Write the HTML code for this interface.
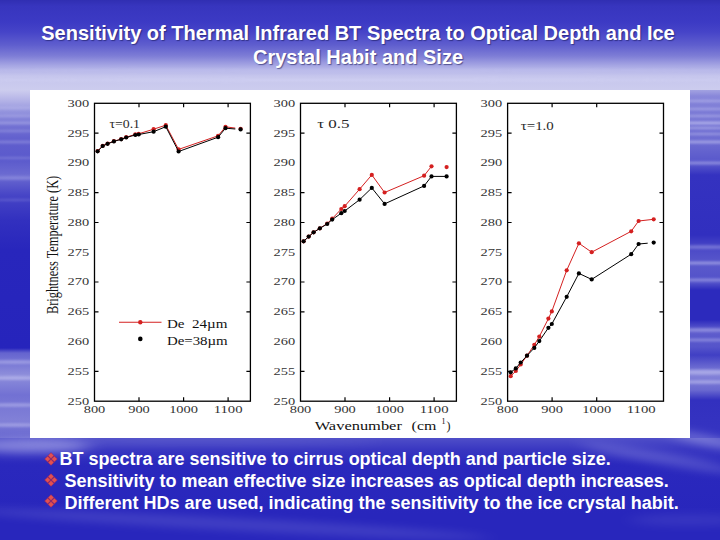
<!DOCTYPE html>
<html><head><meta charset="utf-8">
<style>
html,body{margin:0;padding:0;width:720px;height:540px;overflow:hidden;}
body{position:relative;background:#3236b0;font-family:"Liberation Sans",sans-serif;}
#bg{position:absolute;left:0;top:0;width:720px;height:540px;}
.title{position:absolute;left:0;width:716px;text-align:center;color:#fff;font-weight:bold;font-size:20px;line-height:24px;white-space:nowrap;text-shadow:1px 1px 1px rgba(20,20,80,0.55);}
#chart{position:absolute;left:30px;top:90px;width:660px;height:348px;background:#fff;}
#chart svg{position:absolute;left:0;top:0;}
.tl{font-family:"Liberation Serif",serif;font-size:11.3px;fill:#333;}
.ta{font-family:"Liberation Serif",serif;font-size:12px;fill:#2a2a2a;}
.lg{font-family:"Liberation Serif",serif;font-size:11.5px;fill:#111;}
.ax{font-family:"Liberation Serif",serif;font-size:12px;fill:#111;}
.sup{font-family:"Liberation Serif",serif;font-size:8px;fill:#111;}
.bl{position:absolute;left:0;color:#fff;font-weight:bold;font-size:18px;line-height:21px;white-space:nowrap;}
.bul{position:absolute;width:14px;height:14px;}
</style></head><body>
<svg id="bg" width="720" height="540" viewBox="0 0 720 540"><defs><linearGradient id="gt" gradientUnits="userSpaceOnUse" x1="0" y1="0" x2="0" y2="90"><stop offset="0.0000" stop-color="rgb(48,46,178)"/><stop offset="0.0667" stop-color="rgb(55,53,190)"/><stop offset="0.2444" stop-color="rgb(60,58,196)"/><stop offset="0.3556" stop-color="rgb(70,68,200)"/><stop offset="0.5000" stop-color="rgb(95,94,206)"/><stop offset="0.6222" stop-color="rgb(126,125,214)"/><stop offset="0.7333" stop-color="rgb(168,168,228)"/><stop offset="0.8444" stop-color="rgb(198,198,237)"/><stop offset="1.0000" stop-color="rgb(204,204,238)"/></linearGradient><linearGradient id="gl" gradientUnits="userSpaceOnUse" x1="0" y1="90" x2="0" y2="438"><stop offset="0.0000" stop-color="rgb(205,205,238)"/><stop offset="0.0287" stop-color="rgb(181,180,231)"/><stop offset="0.0632" stop-color="rgb(147,147,221)"/><stop offset="0.1006" stop-color="rgb(116,115,211)"/><stop offset="0.1437" stop-color="rgb(96,94,205)"/><stop offset="0.2011" stop-color="rgb(91,90,204)"/><stop offset="0.2443" stop-color="rgb(108,107,209)"/><stop offset="0.3017" stop-color="rgb(71,69,198)"/><stop offset="0.3736" stop-color="rgb(50,48,191)"/><stop offset="0.4598" stop-color="rgb(40,38,188)"/><stop offset="0.7414" stop-color="rgb(38,36,188)"/><stop offset="0.7557" stop-color="rgb(101,100,207)"/><stop offset="0.8190" stop-color="rgb(142,142,219)"/><stop offset="0.8764" stop-color="rgb(114,113,211)"/><stop offset="0.9483" stop-color="rgb(129,128,215)"/><stop offset="1.0000" stop-color="rgb(101,100,207)"/></linearGradient><linearGradient id="gr" gradientUnits="userSpaceOnUse" x1="0" y1="90" x2="0" y2="438"><stop offset="0.0000" stop-color="rgb(163,163,225)"/><stop offset="0.0172" stop-color="rgb(137,136,218)"/><stop offset="0.0575" stop-color="rgb(125,124,214)"/><stop offset="0.1006" stop-color="rgb(118,117,212)"/><stop offset="0.1580" stop-color="rgb(106,105,208)"/><stop offset="0.2155" stop-color="rgb(85,84,202)"/><stop offset="0.2443" stop-color="rgb(52,50,192)"/><stop offset="0.4167" stop-color="rgb(49,47,191)"/><stop offset="0.4540" stop-color="rgb(75,73,199)"/><stop offset="0.5029" stop-color="rgb(90,89,203)"/><stop offset="0.5546" stop-color="rgb(81,80,201)"/><stop offset="0.5747" stop-color="rgb(44,42,189)"/><stop offset="0.6609" stop-color="rgb(44,42,189)"/><stop offset="0.6897" stop-color="rgb(96,94,205)"/><stop offset="0.7385" stop-color="rgb(85,84,202)"/><stop offset="0.7615" stop-color="rgb(64,63,196)"/><stop offset="0.8190" stop-color="rgb(132,131,216)"/><stop offset="0.8621" stop-color="rgb(106,105,208)"/><stop offset="0.8908" stop-color="rgb(50,48,191)"/><stop offset="1.0000" stop-color="rgb(54,52,193)"/></linearGradient><linearGradient id="gb" gradientUnits="userSpaceOnUse" x1="0" y1="438" x2="0" y2="540"><stop offset="0.0000" stop-color="rgb(79,78,200)"/><stop offset="0.1176" stop-color="rgb(56,54,193)"/><stop offset="0.2647" stop-color="rgb(42,40,189)"/><stop offset="0.7549" stop-color="rgb(40,38,188)"/><stop offset="1.0000" stop-color="rgb(40,38,188)"/></linearGradient>
<filter id="bl1" x="-20%" y="-200%" width="140%" height="500%"><feGaussianBlur stdDeviation="6 1.2"/></filter><filter id="bl2" x="-30%" y="-300%" width="160%" height="700%"><feGaussianBlur stdDeviation="10 4"/></filter>
</defs>
<rect width="720" height="540" fill="rgb(40,38,188)"/>
<rect x="0" y="0" width="720" height="90" fill="url(#gt)"/>
<rect x="0" y="90" width="30" height="348" fill="url(#gl)"/>
<rect x="690" y="90" width="30" height="348" fill="url(#gr)"/>
<rect x="0" y="438" width="720" height="102" fill="url(#gb)"/>
<ellipse cx="15" cy="108" rx="40" ry="1.2" fill="#e8e8ff" opacity="0.2" transform="rotate(0 15 108)" filter="url(#bl1)"/><ellipse cx="15" cy="116" rx="40" ry="1.2" fill="#e8e8ff" opacity="0.2" transform="rotate(0 15 116)" filter="url(#bl1)"/><ellipse cx="15" cy="131" rx="40" ry="1.2" fill="#e8e8ff" opacity="0.2" transform="rotate(0 15 131)" filter="url(#bl1)"/><ellipse cx="15" cy="123" rx="40" ry="1.5" fill="#e8e8ff" opacity="0.25" transform="rotate(0 15 123)" filter="url(#bl1)"/><ellipse cx="15" cy="142" rx="40" ry="1.5" fill="#e8e8ff" opacity="0.22" transform="rotate(0 15 142)" filter="url(#bl1)"/><ellipse cx="15" cy="158" rx="40" ry="1.2" fill="#e8e8ff" opacity="0.18" transform="rotate(0 15 158)" filter="url(#bl1)"/><ellipse cx="15" cy="178" rx="40" ry="2" fill="#e8e8ff" opacity="0.22" transform="rotate(0 15 178)" filter="url(#bl1)"/><ellipse cx="15" cy="200" rx="30" ry="1.2" fill="#e8e8ff" opacity="0.15" transform="rotate(0 15 200)" filter="url(#bl1)"/><ellipse cx="15" cy="362" rx="40" ry="2" fill="#e8e8ff" opacity="0.3" transform="rotate(0 15 362)" filter="url(#bl1)"/><ellipse cx="15" cy="378" rx="40" ry="2" fill="#e8e8ff" opacity="0.35" transform="rotate(0 15 378)" filter="url(#bl1)"/><ellipse cx="15" cy="405" rx="40" ry="2" fill="#e8e8ff" opacity="0.3" transform="rotate(0 15 405)" filter="url(#bl1)"/><ellipse cx="15" cy="425" rx="40" ry="2" fill="#e8e8ff" opacity="0.3" transform="rotate(0 15 425)" filter="url(#bl1)"/><ellipse cx="30" cy="446" rx="60" ry="7" fill="#e8e8ff" opacity="0.4" transform="rotate(0 30 446)" filter="url(#bl2)"/><ellipse cx="200" cy="442" rx="180" ry="3" fill="#e8e8ff" opacity="0.1" transform="rotate(0 200 442)" filter="url(#bl2)"/><ellipse cx="705" cy="101" rx="40" ry="1.2" fill="#e8e8ff" opacity="0.3" transform="rotate(0 705 101)" filter="url(#bl1)"/><ellipse cx="705" cy="109" rx="40" ry="1.2" fill="#e8e8ff" opacity="0.3" transform="rotate(0 705 109)" filter="url(#bl1)"/><ellipse cx="705" cy="116" rx="40" ry="1.2" fill="#e8e8ff" opacity="0.3" transform="rotate(0 705 116)" filter="url(#bl1)"/><ellipse cx="705" cy="134" rx="40" ry="1.2" fill="#e8e8ff" opacity="0.3" transform="rotate(0 705 134)" filter="url(#bl1)"/><ellipse cx="705" cy="123" rx="40" ry="1.5" fill="#e8e8ff" opacity="0.45" transform="rotate(0 705 123)" filter="url(#bl1)"/><ellipse cx="705" cy="128" rx="40" ry="1.2" fill="#e8e8ff" opacity="0.35" transform="rotate(0 705 128)" filter="url(#bl1)"/><ellipse cx="705" cy="142" rx="40" ry="1.5" fill="#e8e8ff" opacity="0.4" transform="rotate(0 705 142)" filter="url(#bl1)"/><ellipse cx="705" cy="163" rx="40" ry="1.5" fill="#e8e8ff" opacity="0.35" transform="rotate(0 705 163)" filter="url(#bl1)"/><ellipse cx="705" cy="247" rx="40" ry="2" fill="#e8e8ff" opacity="0.25" transform="rotate(0 705 247)" filter="url(#bl1)"/><ellipse cx="705" cy="263" rx="40" ry="1.5" fill="#e8e8ff" opacity="0.4" transform="rotate(0 705 263)" filter="url(#bl1)"/><ellipse cx="705" cy="280" rx="40" ry="1.5" fill="#e8e8ff" opacity="0.35" transform="rotate(0 705 280)" filter="url(#bl1)"/><ellipse cx="705" cy="330" rx="40" ry="2" fill="#e8e8ff" opacity="0.3" transform="rotate(0 705 330)" filter="url(#bl1)"/><ellipse cx="705" cy="340" rx="40" ry="1.5" fill="#e8e8ff" opacity="0.3" transform="rotate(0 705 340)" filter="url(#bl1)"/><ellipse cx="705" cy="372" rx="40" ry="2.5" fill="#e8e8ff" opacity="0.4" transform="rotate(0 705 372)" filter="url(#bl1)"/><ellipse cx="705" cy="382" rx="40" ry="2" fill="#e8e8ff" opacity="0.35" transform="rotate(0 705 382)" filter="url(#bl1)"/><ellipse cx="705" cy="440" rx="40" ry="5" fill="#e8e8ff" opacity="0.3" transform="rotate(12 705 440)" filter="url(#bl2)"/><ellipse cx="660" cy="458" rx="80" ry="6" fill="#e8e8ff" opacity="0.2" transform="rotate(10 660 458)" filter="url(#bl2)"/><ellipse cx="690" cy="520" rx="60" ry="6" fill="#e8e8ff" opacity="0.08" transform="rotate(0 690 520)" filter="url(#bl2)"/><ellipse cx="360" cy="70" rx="400" ry="2" fill="#e8e8ff" opacity="0.12" transform="rotate(0 360 70)" filter="url(#bl1)"/><ellipse cx="360" cy="80" rx="400" ry="2" fill="#e8e8ff" opacity="0.15" transform="rotate(0 360 80)" filter="url(#bl1)"/><ellipse cx="230" cy="524" rx="260" ry="6" fill="#e8e8ff" opacity="0.13" transform="rotate(3 230 524)" filter="url(#bl2)"/>
</svg>
<div class="title" style="top:20.5px;">Sensitivity of Thermal Infrared BT Spectra to Optical Depth and Ice</div>
<div class="title" style="top:45px;">Crystal Habit and Size</div>
<div id="chart"><svg width="660" height="348" viewBox="0 0 660 348">
<g transform="translate(-30,-90)">
<rect x="94.5" y="103.3" width="155.9" height="297.9" fill="none" stroke="#000" stroke-width="1.3"/>
<path d="M94.5 133.1h4M250.4 133.1h-4M94.5 192.7h4M250.4 192.7h-4M94.5 222.5h4M250.4 222.5h-4M94.5 282h4M250.4 282h-4M94.5 311.8h4M250.4 311.8h-4M94.5 371.4h4M250.4 371.4h-4M139 401.2v-4M139 103.3v4M183.6 401.2v-4M183.6 103.3v4M228.1 401.2v-4M228.1 103.3v4" stroke="#000" stroke-width="1.2" fill="none"/>
<text x="89.1" y="404.6" text-anchor="end" textLength="21.6" lengthAdjust="spacingAndGlyphs" class="tl">250</text>
<text x="89.1" y="374.8" text-anchor="end" textLength="21.6" lengthAdjust="spacingAndGlyphs" class="tl">255</text>
<text x="89.1" y="345" text-anchor="end" textLength="21.6" lengthAdjust="spacingAndGlyphs" class="tl">260</text>
<text x="89.1" y="315.2" text-anchor="end" textLength="21.6" lengthAdjust="spacingAndGlyphs" class="tl">265</text>
<text x="89.1" y="285.4" text-anchor="end" textLength="21.6" lengthAdjust="spacingAndGlyphs" class="tl">270</text>
<text x="89.1" y="255.7" text-anchor="end" textLength="21.6" lengthAdjust="spacingAndGlyphs" class="tl">275</text>
<text x="89.1" y="225.9" text-anchor="end" textLength="21.6" lengthAdjust="spacingAndGlyphs" class="tl">280</text>
<text x="89.1" y="196.1" text-anchor="end" textLength="21.6" lengthAdjust="spacingAndGlyphs" class="tl">285</text>
<text x="89.1" y="166.3" text-anchor="end" textLength="21.6" lengthAdjust="spacingAndGlyphs" class="tl">290</text>
<text x="89.1" y="136.5" text-anchor="end" textLength="21.6" lengthAdjust="spacingAndGlyphs" class="tl">295</text>
<text x="89.1" y="106.7" text-anchor="end" textLength="21.6" lengthAdjust="spacingAndGlyphs" class="tl">300</text>
<text x="94.5" y="412.8" text-anchor="middle" textLength="21.6" lengthAdjust="spacingAndGlyphs" class="tl">800</text>
<text x="139" y="412.8" text-anchor="middle" textLength="21.6" lengthAdjust="spacingAndGlyphs" class="tl">900</text>
<text x="183.6" y="412.8" text-anchor="middle" textLength="28.9" lengthAdjust="spacingAndGlyphs" class="tl">1000</text>
<text x="228.1" y="412.8" text-anchor="middle" textLength="28.9" lengthAdjust="spacingAndGlyphs" class="tl">1100</text>
<path d="M97.6 151.1 L102.7 145.8 L107.6 143.6 L113.9 141.2 L121.2 139.1 L126.2 137.2 L135.3 134.4 L138.7 133.8 L153.6 129.2 L165.8 125.2 L178.6 149.4 L218.1 135.8 L225.5 126.8 L235.3 128.1" stroke="#d42020" stroke-width="1" fill="none"/>
<circle cx="97.6" cy="151.1" r="2.1" fill="#d42020"/>
<circle cx="102.7" cy="145.8" r="2.1" fill="#d42020"/>
<circle cx="107.6" cy="143.6" r="2.1" fill="#d42020"/>
<circle cx="113.9" cy="141.2" r="2.1" fill="#d42020"/>
<circle cx="121.2" cy="139.1" r="2.1" fill="#d42020"/>
<circle cx="126.2" cy="137.2" r="2.1" fill="#d42020"/>
<circle cx="135.3" cy="134.4" r="2.1" fill="#d42020"/>
<circle cx="138.7" cy="133.8" r="2.1" fill="#d42020"/>
<circle cx="153.6" cy="129.2" r="2.1" fill="#d42020"/>
<circle cx="165.8" cy="125.2" r="2.1" fill="#d42020"/>
<circle cx="178.6" cy="149.4" r="2.1" fill="#d42020"/>
<circle cx="218.1" cy="135.8" r="2.1" fill="#d42020"/>
<circle cx="225.5" cy="126.8" r="2.1" fill="#d42020"/>
<circle cx="240.6" cy="128.8" r="2.1" fill="#d42020"/>
<path d="M97.6 151.3 L102.7 146 L107.6 143.8 L113.9 141.4 L121.2 139.3 L126.2 137.5 L135.3 135 L138.7 134.5 L153.6 131.7 L165.8 126.7 L178.6 151.5 L218.1 137.2 L225.5 128.2 L235.3 129" stroke="#000" stroke-width="1" fill="none"/>
<circle cx="97.6" cy="151.3" r="2.1" fill="#000"/>
<circle cx="102.7" cy="146" r="2.1" fill="#000"/>
<circle cx="107.6" cy="143.8" r="2.1" fill="#000"/>
<circle cx="113.9" cy="141.4" r="2.1" fill="#000"/>
<circle cx="121.2" cy="139.3" r="2.1" fill="#000"/>
<circle cx="126.2" cy="137.5" r="2.1" fill="#000"/>
<circle cx="135.3" cy="135" r="2.1" fill="#000"/>
<circle cx="138.7" cy="134.5" r="2.1" fill="#000"/>
<circle cx="153.6" cy="131.7" r="2.1" fill="#000"/>
<circle cx="165.8" cy="126.7" r="2.1" fill="#000"/>
<circle cx="178.6" cy="151.5" r="2.1" fill="#000"/>
<circle cx="218.1" cy="137.2" r="2.1" fill="#000"/>
<circle cx="225.5" cy="128.2" r="2.1" fill="#000"/>
<circle cx="240.6" cy="129.4" r="2.1" fill="#000"/>
<rect x="300.5" y="103.3" width="155.9" height="297.9" fill="none" stroke="#000" stroke-width="1.3"/>
<path d="M300.5 133.1h4M456.4 133.1h-4M300.5 192.7h4M456.4 192.7h-4M300.5 222.5h4M456.4 222.5h-4M300.5 282h4M456.4 282h-4M300.5 311.8h4M456.4 311.8h-4M300.5 371.4h4M456.4 371.4h-4M345 401.2v-4M345 103.3v4M389.6 401.2v-4M389.6 103.3v4M434.1 401.2v-4M434.1 103.3v4" stroke="#000" stroke-width="1.2" fill="none"/>
<text x="295.1" y="404.6" text-anchor="end" textLength="21.6" lengthAdjust="spacingAndGlyphs" class="tl">250</text>
<text x="295.1" y="374.8" text-anchor="end" textLength="21.6" lengthAdjust="spacingAndGlyphs" class="tl">255</text>
<text x="295.1" y="345" text-anchor="end" textLength="21.6" lengthAdjust="spacingAndGlyphs" class="tl">260</text>
<text x="295.1" y="315.2" text-anchor="end" textLength="21.6" lengthAdjust="spacingAndGlyphs" class="tl">265</text>
<text x="295.1" y="285.4" text-anchor="end" textLength="21.6" lengthAdjust="spacingAndGlyphs" class="tl">270</text>
<text x="295.1" y="255.7" text-anchor="end" textLength="21.6" lengthAdjust="spacingAndGlyphs" class="tl">275</text>
<text x="295.1" y="225.9" text-anchor="end" textLength="21.6" lengthAdjust="spacingAndGlyphs" class="tl">280</text>
<text x="295.1" y="196.1" text-anchor="end" textLength="21.6" lengthAdjust="spacingAndGlyphs" class="tl">285</text>
<text x="295.1" y="166.3" text-anchor="end" textLength="21.6" lengthAdjust="spacingAndGlyphs" class="tl">290</text>
<text x="295.1" y="136.5" text-anchor="end" textLength="21.6" lengthAdjust="spacingAndGlyphs" class="tl">295</text>
<text x="295.1" y="106.7" text-anchor="end" textLength="21.6" lengthAdjust="spacingAndGlyphs" class="tl">300</text>
<text x="300.5" y="412.8" text-anchor="middle" textLength="21.6" lengthAdjust="spacingAndGlyphs" class="tl">800</text>
<text x="345" y="412.8" text-anchor="middle" textLength="21.6" lengthAdjust="spacingAndGlyphs" class="tl">900</text>
<text x="389.6" y="412.8" text-anchor="middle" textLength="28.9" lengthAdjust="spacingAndGlyphs" class="tl">1000</text>
<text x="434.1" y="412.8" text-anchor="middle" textLength="28.9" lengthAdjust="spacingAndGlyphs" class="tl">1100</text>
<path d="M303.6 241.3 L308.7 236.6 L313.6 232.3 L319.9 228.3 L327.2 223.5 L332.2 218.7 L341.3 209 L344.7 206.2 L359.6 189.2 L371.8 174.9 L384.6 192.5 L424.1 175.7 L431.5 166.3" stroke="#d42020" stroke-width="1" fill="none"/>
<circle cx="303.6" cy="241.3" r="2.1" fill="#d42020"/>
<circle cx="308.7" cy="236.6" r="2.1" fill="#d42020"/>
<circle cx="313.6" cy="232.3" r="2.1" fill="#d42020"/>
<circle cx="319.9" cy="228.3" r="2.1" fill="#d42020"/>
<circle cx="327.2" cy="223.5" r="2.1" fill="#d42020"/>
<circle cx="332.2" cy="218.7" r="2.1" fill="#d42020"/>
<circle cx="341.3" cy="209" r="2.1" fill="#d42020"/>
<circle cx="344.7" cy="206.2" r="2.1" fill="#d42020"/>
<circle cx="359.6" cy="189.2" r="2.1" fill="#d42020"/>
<circle cx="371.8" cy="174.9" r="2.1" fill="#d42020"/>
<circle cx="384.6" cy="192.5" r="2.1" fill="#d42020"/>
<circle cx="424.1" cy="175.7" r="2.1" fill="#d42020"/>
<circle cx="431.5" cy="166.3" r="2.1" fill="#d42020"/>
<circle cx="446.6" cy="167.1" r="2.1" fill="#d42020"/>
<path d="M303.6 241.3 L308.7 236.6 L313.6 232.3 L319.9 228.3 L327.2 224 L332.2 219.6 L341.3 213.2 L344.7 211 L359.6 199.7 L371.8 187.9 L384.6 203.9 L424.1 185.9 L431.5 176.4 L446.6 176.4" stroke="#000" stroke-width="1" fill="none"/>
<circle cx="303.6" cy="241.3" r="2.1" fill="#000"/>
<circle cx="308.7" cy="236.6" r="2.1" fill="#000"/>
<circle cx="313.6" cy="232.3" r="2.1" fill="#000"/>
<circle cx="319.9" cy="228.3" r="2.1" fill="#000"/>
<circle cx="327.2" cy="224" r="2.1" fill="#000"/>
<circle cx="332.2" cy="219.6" r="2.1" fill="#000"/>
<circle cx="341.3" cy="213.2" r="2.1" fill="#000"/>
<circle cx="344.7" cy="211" r="2.1" fill="#000"/>
<circle cx="359.6" cy="199.7" r="2.1" fill="#000"/>
<circle cx="371.8" cy="187.9" r="2.1" fill="#000"/>
<circle cx="384.6" cy="203.9" r="2.1" fill="#000"/>
<circle cx="424.1" cy="185.9" r="2.1" fill="#000"/>
<circle cx="431.5" cy="176.4" r="2.1" fill="#000"/>
<circle cx="446.6" cy="176.4" r="2.1" fill="#000"/>
<rect x="507.6" y="103.3" width="155.9" height="297.9" fill="none" stroke="#000" stroke-width="1.3"/>
<path d="M507.6 133.1h4M663.5 133.1h-4M507.6 192.7h4M663.5 192.7h-4M507.6 222.5h4M663.5 222.5h-4M507.6 282h4M663.5 282h-4M507.6 311.8h4M663.5 311.8h-4M507.6 371.4h4M663.5 371.4h-4M552.1 401.2v-4M552.1 103.3v4M596.7 401.2v-4M596.7 103.3v4" stroke="#000" stroke-width="1.2" fill="none"/>
<text x="502.2" y="404.6" text-anchor="end" textLength="21.6" lengthAdjust="spacingAndGlyphs" class="tl">250</text>
<text x="502.2" y="374.8" text-anchor="end" textLength="21.6" lengthAdjust="spacingAndGlyphs" class="tl">255</text>
<text x="502.2" y="345" text-anchor="end" textLength="21.6" lengthAdjust="spacingAndGlyphs" class="tl">260</text>
<text x="502.2" y="315.2" text-anchor="end" textLength="21.6" lengthAdjust="spacingAndGlyphs" class="tl">265</text>
<text x="502.2" y="285.4" text-anchor="end" textLength="21.6" lengthAdjust="spacingAndGlyphs" class="tl">270</text>
<text x="502.2" y="255.7" text-anchor="end" textLength="21.6" lengthAdjust="spacingAndGlyphs" class="tl">275</text>
<text x="502.2" y="225.9" text-anchor="end" textLength="21.6" lengthAdjust="spacingAndGlyphs" class="tl">280</text>
<text x="502.2" y="196.1" text-anchor="end" textLength="21.6" lengthAdjust="spacingAndGlyphs" class="tl">285</text>
<text x="502.2" y="166.3" text-anchor="end" textLength="21.6" lengthAdjust="spacingAndGlyphs" class="tl">290</text>
<text x="502.2" y="136.5" text-anchor="end" textLength="21.6" lengthAdjust="spacingAndGlyphs" class="tl">295</text>
<text x="502.2" y="106.7" text-anchor="end" textLength="21.6" lengthAdjust="spacingAndGlyphs" class="tl">300</text>
<text x="507.6" y="412.8" text-anchor="middle" textLength="21.6" lengthAdjust="spacingAndGlyphs" class="tl">800</text>
<text x="552.1" y="412.8" text-anchor="middle" textLength="21.6" lengthAdjust="spacingAndGlyphs" class="tl">900</text>
<text x="596.7" y="412.8" text-anchor="middle" textLength="28.9" lengthAdjust="spacingAndGlyphs" class="tl">1000</text>
<text x="641.2" y="412.8" text-anchor="middle" textLength="28.9" lengthAdjust="spacingAndGlyphs" class="tl">1100</text>
<path d="M510.7 376.2 L515.8 371 L520.7 364.5 L527 355.7 L534.3 344.8 L539.3 336.6 L548.4 318.6 L551.8 311.4 L566.7 270.3 L578.9 243.3 L591.7 252.2 L631.2 231.3 L638.6 221 L653.7 219.3" stroke="#d42020" stroke-width="1" fill="none"/>
<circle cx="510.7" cy="376.2" r="2.1" fill="#d42020"/>
<circle cx="515.8" cy="371" r="2.1" fill="#d42020"/>
<circle cx="520.7" cy="364.5" r="2.1" fill="#d42020"/>
<circle cx="527" cy="355.7" r="2.1" fill="#d42020"/>
<circle cx="534.3" cy="344.8" r="2.1" fill="#d42020"/>
<circle cx="539.3" cy="336.6" r="2.1" fill="#d42020"/>
<circle cx="548.4" cy="318.6" r="2.1" fill="#d42020"/>
<circle cx="551.8" cy="311.4" r="2.1" fill="#d42020"/>
<circle cx="566.7" cy="270.3" r="2.1" fill="#d42020"/>
<circle cx="578.9" cy="243.3" r="2.1" fill="#d42020"/>
<circle cx="591.7" cy="252.2" r="2.1" fill="#d42020"/>
<circle cx="631.2" cy="231.3" r="2.1" fill="#d42020"/>
<circle cx="638.6" cy="221" r="2.1" fill="#d42020"/>
<circle cx="653.7" cy="219.3" r="2.1" fill="#d42020"/>
<path d="M510.7 372.3 L515.8 368.4 L520.7 362.5 L527 355.7 L534.3 347.9 L539.3 341.1 L548.4 327.8 L551.8 324 L566.7 296.8 L578.9 273.4 L591.7 279.4 L631.2 254.2 L638.6 244 L647.7 243.2" stroke="#000" stroke-width="1" fill="none"/>
<circle cx="510.7" cy="372.3" r="2.1" fill="#000"/>
<circle cx="515.8" cy="368.4" r="2.1" fill="#000"/>
<circle cx="520.7" cy="362.5" r="2.1" fill="#000"/>
<circle cx="527" cy="355.7" r="2.1" fill="#000"/>
<circle cx="534.3" cy="347.9" r="2.1" fill="#000"/>
<circle cx="539.3" cy="341.1" r="2.1" fill="#000"/>
<circle cx="548.4" cy="327.8" r="2.1" fill="#000"/>
<circle cx="551.8" cy="324" r="2.1" fill="#000"/>
<circle cx="566.7" cy="296.8" r="2.1" fill="#000"/>
<circle cx="578.9" cy="273.4" r="2.1" fill="#000"/>
<circle cx="591.7" cy="279.4" r="2.1" fill="#000"/>
<circle cx="631.2" cy="254.2" r="2.1" fill="#000"/>
<circle cx="638.6" cy="244" r="2.1" fill="#000"/>
<circle cx="653.7" cy="242.6" r="2.1" fill="#000"/>
<text x="109.4" y="127.8" textLength="30.6" lengthAdjust="spacingAndGlyphs" class="ta">τ=0.1</text>
<text x="317.3" y="127.9" textLength="32.3" lengthAdjust="spacingAndGlyphs" class="ta">τ 0.5</text>
<text x="520.8" y="130" textLength="33" lengthAdjust="spacingAndGlyphs" class="ta">τ=1.0</text>
<path d="M119 322.3H161.5" stroke="#d42020" stroke-width="1.1"/>
<circle cx="140.3" cy="322.3" r="2.2" fill="#d42020"/>
<circle cx="140.3" cy="338.9" r="2.3" fill="#000"/>
<text x="166.9" y="328.3" textLength="60.5" lengthAdjust="spacingAndGlyphs" class="lg">De  24µm</text>
<text x="166.9" y="344.7" textLength="60.8" lengthAdjust="spacingAndGlyphs" class="lg">De=38µm</text>
<text transform="translate(58.4,314.1) rotate(-90) scale(1,1.4)" textLength="138.3" lengthAdjust="spacingAndGlyphs" class="ax">Brightness Temperature (K)</text>
<text x="314.7" y="429.8" textLength="87.2" lengthAdjust="spacingAndGlyphs" class="ax">Wavenumber</text>
<text x="411.6" y="429.8" textLength="24.7" lengthAdjust="spacingAndGlyphs" class="ax">(cm</text>
<text x="441.5" y="423.5" class="sup">1</text>
<text x="446.5" y="429.8" class="ax">)</text>
</g>
</svg></div>
<div class="bl" style="left:59.5px;top:449px;">BT spectra are sensitive to cirrus optical depth and particle size.</div>
<div class="bl" style="left:64.5px;top:470.5px;">Sensitivity to mean effective size increases as optical depth increases.</div>
<div class="bl" style="left:64.5px;top:492.5px;">Different HDs are used, indicating the sensitivity to the ice crystal habit.</div>
<svg class="bul" style="left:44.3px;top:451.5px" viewBox="0 0 14 14"><path d="M7 0.2L13.8 7L7 13.8L0.2 7Z" fill="#8a2a70"/><g fill="#e25050"><path d="M7 1L9.6 3.6L7 6.2L4.4 3.6Z"/><path d="M7 7.8L9.6 10.4L7 13L4.4 10.4Z"/><path d="M1 7L3.6 4.4L6.2 7L3.6 9.6Z"/><path d="M7.8 7L10.4 4.4L13 7L10.4 9.6Z"/></g></svg>
<svg class="bul" style="left:44.3px;top:473.2px" viewBox="0 0 14 14"><path d="M7 0.2L13.8 7L7 13.8L0.2 7Z" fill="#8a2a70"/><g fill="#e25050"><path d="M7 1L9.6 3.6L7 6.2L4.4 3.6Z"/><path d="M7 7.8L9.6 10.4L7 13L4.4 10.4Z"/><path d="M1 7L3.6 4.4L6.2 7L3.6 9.6Z"/><path d="M7.8 7L10.4 4.4L13 7L10.4 9.6Z"/></g></svg>
<svg class="bul" style="left:44.3px;top:494.4px" viewBox="0 0 14 14"><path d="M7 0.2L13.8 7L7 13.8L0.2 7Z" fill="#8a2a70"/><g fill="#e25050"><path d="M7 1L9.6 3.6L7 6.2L4.4 3.6Z"/><path d="M7 7.8L9.6 10.4L7 13L4.4 10.4Z"/><path d="M1 7L3.6 4.4L6.2 7L3.6 9.6Z"/><path d="M7.8 7L10.4 4.4L13 7L10.4 9.6Z"/></g></svg>
</body></html>
